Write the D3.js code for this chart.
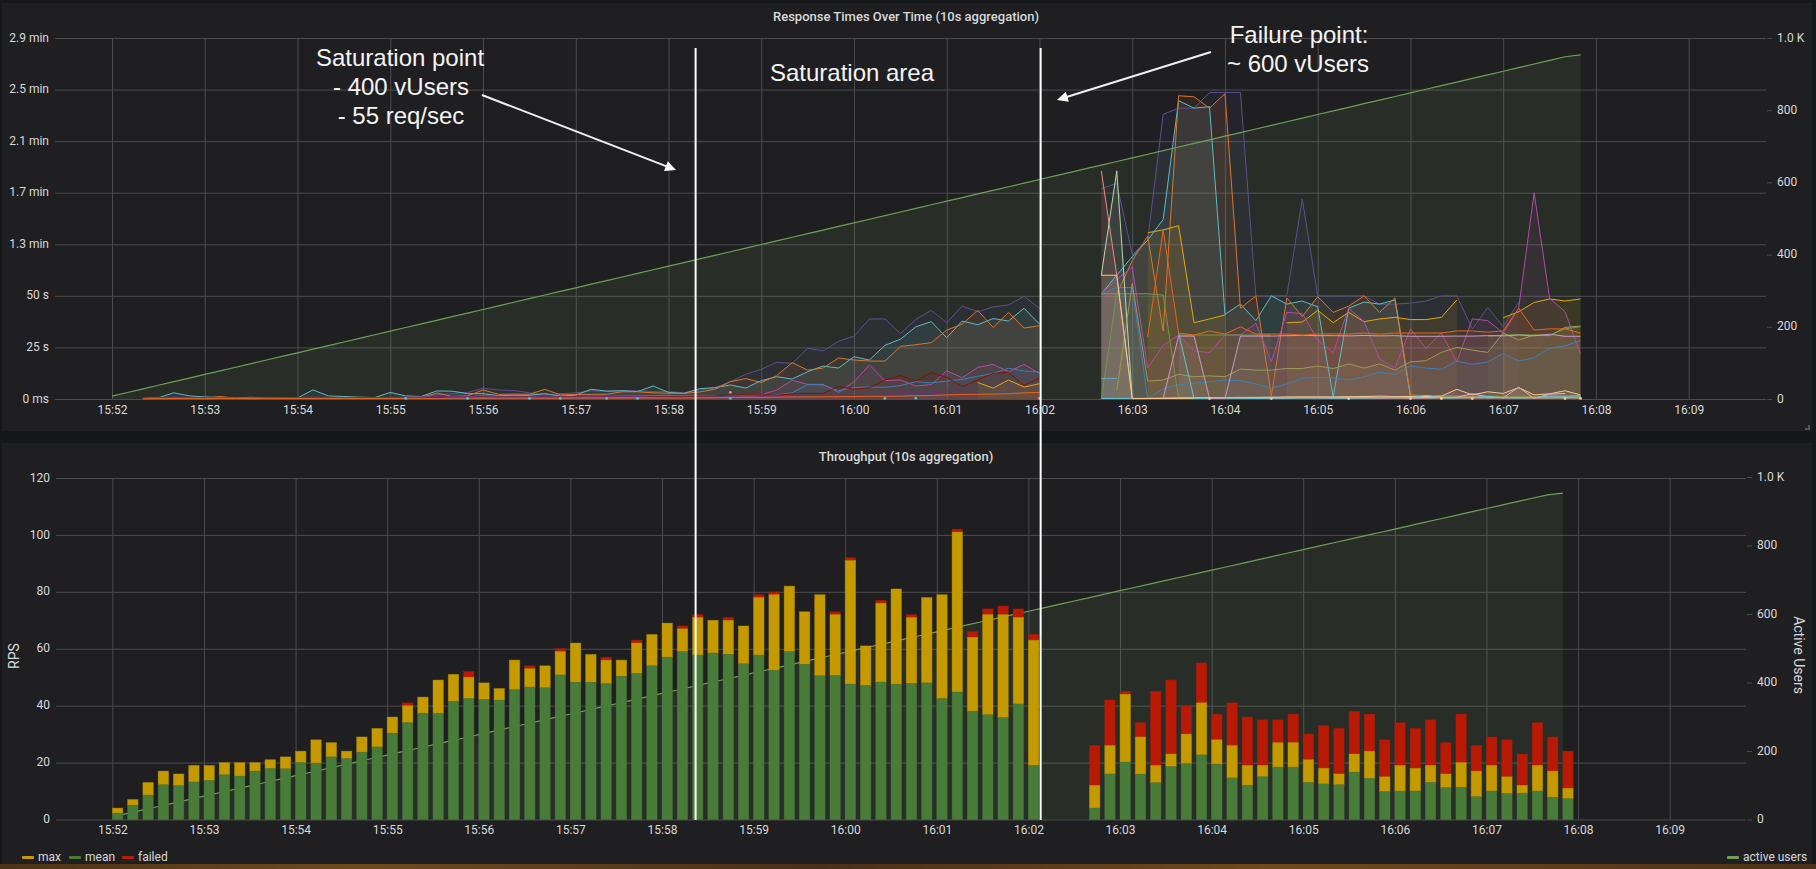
<!DOCTYPE html>
<html>
<head>
<meta charset="utf-8">
<title>Response times and throughput</title>
<script src="https://cdn.jsdelivr.net/npm/d3@7/dist/d3.min.js"></script>
<style>
    html, body { margin: 0; padding: 0; background: #161719; overflow: hidden; }
    svg { display: block; }
    text { font-family: Roboto, sans-serif; fill: #d8d9da; }
    .note { font-family: "Liberation Sans", Arial, sans-serif; font-size: 24px; fill: #f4f4f4; text-anchor: middle; }
    .title { font-size: 13px; font-weight: 500; text-anchor: middle; }
    .axis text { font-size: 12px; }
    .axis .domain { display: none; }
    .axis line { stroke: #4b4c4e; }
</style>
</head>
<body>
<svg id="chart" width="1816" height="869"></svg>
<script>
const _ = null;

// one sample every 10 seconds, index 0 is 15:52:00
const sampleCount = 96;
const startTime = new Date(2019, 0, 1, 15, 52, 0);
const domainStart = new Date(2019, 0, 1, 15, 51, 27);
const domainEnd = new Date(2019, 0, 1, 16, 9, 50);
const saturationTime = new Date(2019, 0, 1, 15, 58, 22);
const failureTime = new Date(2019, 0, 1, 16, 2, 8);

const activeUsers = [
    8, 18, 28, 38, 48, 58, 68, 78, 88, 98, 108, 118, 128, 138, 148, 158, 168, 178, 188, 198,
    208, 218, 228, 238, 248, 258, 268, 278, 288, 298, 308, 318, 328, 338, 348, 358, 368, 378, 388, 398,
    408, 418, 428, 438, 448, 458, 468, 478, 488, 498, 508, 518, 528, 538, 548, 558, 568, 578, 588, 598,
    608, 618, 628, 638, 648, 658, 668, 678, 688, 698, 708, 718, 728, 738, 748, 758, 768, 778, 788, 798,
    808, 818, 828, 838, 848, 858, 868, 878, 888, 898, 908, 918, 928, 938, 948, 953
];

// throughput, tops of the stacked bars in RPS
const barMean = [
    2.2, 5, 8.6, 12.2, 11.9, 13.2, 13.7, 15.7, 15.2, 17,
    17.9, 17.8, 20, 19.8, 22, 21.4, 23.6, 25.5, 30.3, 34,
    37.3, 37.3, 41.5, 42.5, 42.2, 41.9, 45.6, 46.5, 46.3, 50.8,
    48.2, 48.2, 47.7, 50.3, 51.3, 54, 57, 59, 57.8, 58.5,
    58, 54.7, 57.8, 52.4, 59, 54.5, 50.5, 50.6, 47.6, 47.1,
    48.3, 47.5, 47.8, 48, 42.5, 44.8, 38, 36.8, 35.8, 40.6,
    19, _, _, _,
    4, 16, 20.2, 15.9, 12.9, 18.6, 19.6, 22.7, 19.4, 14.6, 12, 15, 18.4, 18.4, 13, 12.5,
    12.2, 16.6, 14.4, 9.8, 10, 10, 13, 11.2, 11.3, 8, 10, 9.1, 9.2, 10, 7.8, 7.3
];
const barMaxTop = [
    4, 7, 13, 17, 16, 19, 19, 20, 20, 20,
    21, 22, 24, 28, 27, 24, 29, 32, 36, 40,
    43, 49, 51, 50, 48, 46, 56, 53, 54, 59,
    62, 58, 56, 56, 62, 65, 69, 67, 71, 70,
    70, 68, 78, 79, 82, 73, 79, 72, 91, 61,
    76, 81, 71, 78, 79, 101, 64, 72, 72, 71,
    63, _, _, _,
    12, 26, 44, 29, 19, 23, 30, 41, 28, 26, 19, 19, 27, 27, 21, 18,
    16, 23, 24, 15, 19, 18, 19, 16, 20, 17, 19, 15, 12, 19, 17, 11
];
const barFailedTop = [
    4, 7, 13, 17, 16, 19, 19, 20, 20, 20,
    21, 22, 24, 28, 27, 24, 29, 32, 36, 41,
    43, 49, 51, 52, 48, 46, 56, 54, 54, 60,
    62, 58, 57, 56, 63, 65, 69, 68, 72, 70,
    71, 68, 79, 80, 82, 73, 79, 73, 92, 61,
    77, 81, 72, 78, 79, 102, 66, 74, 75, 74,
    65, _, _, _,
    26, 42, 45, 34, 45, 49, 40, 55, 37, 41, 36, 35, 35, 37, 30, 33,
    32, 38, 37, 28, 34, 32, 35, 27, 37, 26, 29, 28, 23, 34, 29, 24
];

// response times in seconds: "early" is index 0-60, "late" is index 64-95
const purpleEarly = [
    _, _, 0.3, 0.5, 0.8, 0.6, 0.5, 0.5, 0.4, 0.4, 0.5, 0.5, 0.6, 0.8, 0.7, 0.7, 0.6, 0.5, 0.7, 0.9,
    1.2, 2, 2.6, 3.2, 5.2, 4.4, 4.1, 3, 2, 2.6, 3, 4, 3.8, 4, 4, 3.6, 3.6,
    3, 4.4, 5.5, 8.4, 12, 14.4, 17.8, 17.3, 24.6, 23.3, 28, 30.5, 38.8, 38.8, 31.7, 38.6, 43, 37, 45, 42.3, 44.6, 45.6, 49.8, 44
];
const purpleLate = [
    102, 104.5, 70, 77, 138, 141, 141, 148.6, 148.6, 148.6, 50, 50, 50, 97, 50, 50,
    50, 50, 46, 46, 46.5, 47.5, 50, 50, 34, 44.4, 35, 47, _, _, _, _
];
const cyanEarly = [
    _, _, 0.3, 0.6, 3, 1.5, 1, 0.8, 0.6, 0.8, 0.6, 0.5, 0.5, 4.4, 1.5, 1.2, 0.9, 0.7, 3.2, 1.5,
    1.2, 3.9, 3.8, 2.6, 2.6, 1.6, 1.8, 1.8, 2.6, 1.4, 1.9, 4.7, 3.8, 4, 3.6, 6.3, 3.2,
    2.7, 5, 5.5, 6.8, 5.3, 8.9, 10.8, 9.7, 13.2, 16, 15, 20.5, 18.9, 26, 29, 35, 37.5, 29.7, 37.8, 36, 39, 37.8, 44, 36.3
];
const cyanLate = [
    51, 60, 69, 77, 87, 144.6, 141, 141.7, 41, 46, 38, 50, 46, 47.5, 44.7, 1,
    44, 47, 46, 48, 1, 1.5, 1, 0.8, 0.8, 1, 0.8, 0.8, 1, 1.2, 1.2, 1.2
];
const orangeEarly = [
    _, _, 0.2, 0.3, 0.4, 0.4, 0.3, 1.2, 0.4, 0.3, 0.3, 0.3, 0.3, 0.5, 0.4, 0.4, 0.3, 0.3, 0.4, 0.4,
    0.6, 2.9, 1.3, 1.5, 4.4, 2.3, 2.4, 2.3, 4.7, 2, 2.2, 2.3, 2.3, 3.5, 3.5, 3, 2.8,
    2.7, 3.4, 4.7, 8.4, 9.9, 8, 11.3, 17.6, 14, 15, 19.9, 18.9, 18.4, 18.4, 25.5, 26.3, 27.3, 33.4, 36.3, 43, 34.7, 42, 34.4, 35.5
];
const orangeLate = [
    51, 51, 67, 79, 33, 147, 146.5, 141, 148, 44, 50, 1.6, 49, 40, 49.6, 42,
    45, 50, 42, 49, 2, 1.5, 1.4, 1.5, 1.2, 1.4, 1.2, 1, 1.1, 1.1, 1.2, 1
];
const redOrangeEarly = [
    _, _, 0.1, 0.2, 0.2, 0.2, 0.2, 0.3, 0.2, 0.2, 0.2, 0.2, 0.2, 0.2, 0.2, 0.3, 0.2, 0.2, 0.3, 0.3,
    0.3, 0.3, 0.4, 0.4, 0.4, 0.4, 0.4, 0.4, 0.4, 0.4, 0.5, 0.5, 0.5, 0.5, 0.5, 0.5, 0.5,
    0.5, 0.6, 0.6, 0.7, 0.8, 0.8, 0.9, 1, 1, 1.1, 1.1, 1.2, 1.3, 1.3, 1.4, 1.6, 1.7, 2, 2.2, 2.3, 2.4, 2.6, 3, 3.2
];
const redOrangeLate = [
    _, _, _, 30, 82, 32, 31, 33, 31.5, 35, 31.5, 31.5, 31.5, 31, 31.5, 31.6,
    31.5, 32, 31.4, 32, 32, 32, 32, 33, 33, 32.4, 33, 44, 33.4, 34, 34, 32
];
const yellowEarly = [
    _, _, _, _, _, _, _, _, _, _, _, _, _, _, _, _, _, _, _, _,
    _, _, _, _, _, _, _, _, _, _, _, _, _, _, _, _, _,
    _, _, _, _, _, _, _, _, _, _, _, _, _, _, _, _, _, _, _, 8, 5.3, 9.2, 5.8, 7.4
];
const yellowLate = [
    _, _, _, 80.6, 82, 84, 37, 38.8, 40.7, _, _, _, 37, 37.3, 43, 37,
    42, 37.5, 38.8, 39.6, 38.5, 38.5, 39.6, 48, _, _, 39.4, 42.3, 46.8, 48.5, 47.5, 48.5
];
const magentaEarly = [
    _, _, 0.2, 0.3, 0.6, 0.5, 0.4, 0.4, 0.3, 0.3, 0.3, 0.3, 0.3, 0.6, 0.5, 0.5, 0.4, 0.4, 0.5, 0.6,
    0.8, 1, 1.2, 1, 1.6, 1.3, 1.2, 1.2, 1, 1.3, 1.2, 1.4, 1.3, 1.4, 1.5, 1.6, 1.6,
    1.5, 1.5, 1.6, 1.7, 1.7, 2, 4.4, 9, 7.1, 7.1, 3.2, 8.4, 16.5, 8.9, 9.2, 6.3, 7, 13.7, 10.3, 15.3, 16.8, 13.2, 16.8, 12.4
];
const magentaLate = [
    51, 58, 64, 15, 26, 31, 23.4, 22.5, 31, 31, 36.7, 18, 42, 41.5, 28.6, 22.5,
    44, 37.5, 19.4, 15, 34, 24.6, 32, 18, 38.8, 38, 32, 44, 100, 48.8, 42.3, 21.8
];
const blueEarly = [
    _, _, 0.1, 0.1, 0.2, 0.2, 0.1, 0.2, 0.2, 0.1, 0.2, 0.2, 0.2, 0.3, 0.2, 0.2, 0.2, 0.3, 0.3, 0.3,
    0.4, 0.4, 0.5, 0.5, 0.5, 0.5, 0.5, 0.6, 0.5, 0.6, 0.6, 0.6, 0.6, 0.7, 0.6, 0.7, 0.7,
    0.7, 0.7, 0.8, 0.9, 1, 1.2, 2, 3, 7, 6.8, 4, 5.5, 5.8, 5.7, 6.5, 8.4, 7.8, 8.7, 9.5, 11, 12.4, 14.9, 13.6, 13
];
const blueLate = [
    51, 54, 54, 0.2, 5, 7, 7.6, 8.4, 9.2, 8.9, 7.3, 5.2, 7.3, 10, 10.5, 10.3,
    9.2, 10.8, 13, 12, 16, 15, 14.4, 18.4, 16.8, 18, 22, 18.4, 20, 24.6, 25.8, 28.3
];
const darkRedEarly = [
    _, _, 0.2, 0.3, 0.4, 0.3, 0.3, 0.4, 0.3, 0.3, 0.3, 0.3, 0.4, 0.5, 0.4, 0.4, 0.4, 0.4, 0.5, 0.5,
    0.6, 0.7, 0.8, 0.9, 1.2, 1, 1, 1, 0.9, 1, 1, 1.1, 1.1, 1.2, 1.2, 1.2, 1.1,
    1, 1.2, 1.5, 1.9, 2, 2, 1.8, 2.5, 2.7, 2.7, 6, 4.7, 5.5, 9.2, 11.3, 8.9, 12.8, 10.5, 6, 9.2, 12.4, 12.9, 6.5, 10.3
];
const darkPurpleEarly = [
    _, _, 0.4, 0.6, 1, 0.8, 0.6, 0.6, 0.5, 0.5, 0.6, 0.6, 0.7, 0.9, 0.8, 0.7, 0.7, 0.6, 0.8, 0.9,
    1, 1.2, 1.3, 1, 1.4, 1.2, 1.2, 1.1, 1, 1.1, 1.1, 1.2, 1.1, 1.2, 1.2, 1, 0.9,
    0.8, 0.9, 1, 1, 1.1, 1.2, 1.3, 1.2, 1.4, 1.5, 1.4, 1.5, 1.6, 1.8, 3, 3, 2.8, 3.8, 3.8, 3.4, _, _, _, _
];
const lavenderLate = [
    _, _, _, _, 0.4, 30.5, 30.5, 0.3, 0.3, 30.5, 30.5, 30.5, 30.7, 30.8, 30.7, 30.7,
    30.6, 30.8, 30.6, 30.7, 30.4, 30.4, 30.4, 30.5, 30.5, 30.7, 30.6, 31, 30.6, 31.4, 30.4, 30.4
];
const greenLate = [
    0, 51, 51, 51, 50.4, 0.3, 0.3, 0.4, 0.4, 0.5, 0.4, 0.5, 0.6, 0.6, 0.7, 0.7,
    0.8, 0.9, 0.9, 1, 1, 1, 1, 1.2, 1.4, 1.3, 1, 1.1, 1, 1.2, 1.4, 1.6
];
const greenFlatLate = [
    _, _, _, _, _, 31, 31, 31, 31, 31, 31, 31, _, _, _, _,
    _, _, _, _, _, _, _, _, _, 30.5, 31, 31.2, 31, 31, 34, 35
];
const paleGreenLate = [
    60, 110.6, 0.2, 0.3, 0.3, 0.4, 0.4, _, _, _, _, _, _, _, _, _,
    _, _, _, _, _, _, _, _, _, _, _, _, _, _, _, _
];
const oliveLate = [
    _, 4, 56, 8.7, 9.2, 12, 10.8, 11.2, 10.8, 14.5, 14, 14, 14.8, 14.8, 16, 14.8,
    17, 15, 17, 14, 18, 18.6, 22.6, 25, 23.7, 22.6, 32, 28.6, 31, 30.7, 34.7, 35.4
];
const salmonLate = [
    110.6, 60, 0.3, 0.3, 0.4, 0.5, 0.6, 0.6, 0.7, 0.7, 0.6, 0.6, 1, 0.9, 0.9, 0.8,
    0.9, 0.9, 0.8, 0.7, 0.7, 0.7, 0.8, 0.8, 0.9, 0.8, 0.8, 0.7, 0.6, 0.6, 0.7, 0.6
];
const tanLate = [
    60, 60, 0.2, 0.2, 0.3, 0.4, 0.5, 0.6, 0.7, 0.8, 0.8, 0.9, 0.9, 1, 1, 1,
    1.1, 1.2, 1.4, 1.2, 1.2, 1.2, 1.4, 4.7, 2, 3.5, 2.7, 5.5, 2, 2.5, 4, 2
];
const pinkLate = [
    _, _, _, _, _, _, _, 0.4, 0.5, 0.5, 0.5, 0.4, 0.6, 0.8, 0.7, 0.6,
    0.5, 0.6, 0.5, 0.6, 0.5, 0.6, 0.7, 0.8, 2.6, 1, 0.6, 5.7, 0.3, 2.3, 2.7, _
];
const skyLate = [
    10, 10, _, _, _, _, _, _, _, _, _, _, _, _, _, _,
    _, _, _, _, _, _, _, _, _, _, _, _, _, _, _, _
];
const tealLate = [
    0.3, 0.3, 0.3, _, _, 32, 0.3, 0.3, 0.5, 0.4, 0.3, 0.4, 0.4, 0.5, 0.5, 0.4,
    0.5, 0.5, 0.6, 0.9, 0.6, 1.8, 0.5, 0.6, 0.8, 1.2, 0.6, 0.5, 0.7, 1.4, 1.3, 1.5
];

// isolated samples, they have no neighbour and show as dots
const cyanDotIndex = [19, 23, 27, 29, 32, 34, 40, 50, 52];
const cyanDotValue = [0.3, 0.3, 0.3, 0.3, 0.3, 0.3, 0.3, 0.3, 0.4];
const salmonDotIndex = [40, 60];
const salmonDotValue = [3.2, 0.3];
const peachDotIndex = [71, 75, 80, 84, 86, 88, 94, 95];
const peachDotValue = [0.2, 0.2, 0.2, 0.2, 0.2, 0.2, 0.2, 0.3];

const responseSeries = [
    { color: "#614d93", early: purpleEarly, late: purpleLate },
    { color: "#5bbcc9", early: cyanEarly, late: cyanLate },
    { color: "#d8762e", early: orangeEarly, late: orangeLate },
    { color: "#e5a80e", early: yellowEarly, late: yellowLate },
    { color: "#b24aa6", early: magentaEarly, late: magentaLate },
    { color: "#3f7fb5", early: blueEarly, late: blueLate },
    { color: "#890f02", early: darkRedEarly, late: [] },
    { color: "#6f2c78", early: darkPurpleEarly, late: [] },
    { color: "#6b9a45", early: [], late: greenLate },
    { color: "#6b9a45", early: [], late: greenFlatLate },
    { color: "#b7dbab", early: [], late: paleGreenLate },
    { color: "#9c9a55", early: [], late: oliveLate },
    { color: "#f28a80", early: [], late: salmonLate },
    { color: "#f4c98f", early: [], late: tanLate },
    { color: "#efa6cc", early: [], late: pinkLate },
    { color: "#6ea6cf", early: [], late: skyLate },
    { color: "#5fc6d6", early: [], late: tealLate },
    { color: "#c79bc4", early: [], late: lavenderLate },
    { color: "#e8641c", early: redOrangeEarly, late: redOrangeLate }
];

const responseTicks = [0, 25, 50, 75, 100, 125, 150, 175];
const responseTickLabels = ["0 ms", "25 s", "50 s", "1.3 min", "1.7 min", "2.1 min", "2.5 min", "2.9 min"];
const rpsTicks = [0, 20, 40, 60, 80, 100, 120];
const userTicks = [0, 200, 400, 600, 800, 1000];

const legendLeft = [
    { label: "max", color: "#c49a00", x: 22 },
    { label: "mean", color: "#4a7c39", x: 69 },
    { label: "failed", color: "#b81a05", x: 122 }
];

function timeAt(i) {
    return d3.timeSecond.offset(startTime, i * 10);
}

function fullSeries(early, late) {
    const values = new Array(sampleCount).fill(null);
    early.forEach((v, i) => { values[i] = v; });
    late.forEach((v, i) => { values[64 + i] = v; });
    return values;
}

const svg = d3.select("#chart");

// page and panels
svg.append("rect").attr("width", 1816).attr("height", 869).attr("fill", "#161719");
svg.append("rect").attr("x", 2).attr("y", 3).attr("width", 1810).attr("height", 428).attr("fill", "#1f1f21");
svg.append("rect").attr("x", 2).attr("y", 443).attr("width", 1810).attr("height", 421).attr("fill", "#1f1f21");
const strip = svg.append("defs").append("linearGradient").attr("id", "strip");
[["0%", "#4d3218"], ["20%", "#6e4a1e"], ["45%", "#4a2f18"], ["70%", "#70491c"], ["100%", "#4d3118"]].forEach(s => {
    strip.append("stop").attr("offset", s[0]).attr("stop-color", s[1]);
});
svg.append("rect").attr("y", 864).attr("width", 1816).attr("height", 5).attr("fill", "url(#strip)");
svg.append("path").attr("d", "M1809 425V429H1805").attr("fill", "none").attr("stroke", "#555").attr("stroke-width", 2);

function drawAxes(g, x, yLeft, yRight, left, right, leftTicks, leftFormat) {
    const top = yLeft.range()[1];
    const bottom = yLeft.range()[0];

    const grid = g.append("g").attr("class", "axis");
    grid.append("g")
        .attr("transform", `translate(${left},0)`)
        .call(d3.axisLeft(yLeft).tickValues(leftTicks).tickSize(-(right - left)).tickFormat(""));

    const leftAxis = g.append("g").attr("class", "axis")
        .attr("transform", `translate(${left},0)`)
        .call(d3.axisLeft(yLeft).tickValues(leftTicks).tickSize(6).tickPadding(6).tickFormat(leftFormat));

    const rightAxis = g.append("g").attr("class", "axis")
        .attr("transform", `translate(${right + 1},0)`)
        .call(d3.axisRight(yRight).tickValues(userTicks).tickSize(5).tickPadding(5)
            .tickFormat(d => d === 1000 ? "1.0 K" : d));

    // labels sit a little above their ticks in the reference
    leftAxis.selectAll("text").attr("dy", "0.26em");
    rightAxis.selectAll("text").attr("dy", "0.26em");

    g.append("g").attr("class", "axis")
        .attr("transform", `translate(0,${bottom})`)
        .call(d3.axisBottom(x).ticks(d3.timeMinute.every(1)).tickSize(-(bottom - top)).tickPadding(6)
            .tickFormat(d3.timeFormat("%H:%M")));
}

function drawUsersFill(g, x, yRight) {
    const area = d3.area()
        .x((d, i) => x(timeAt(i)))
        .y0(yRight(0))
        .y1(d => yRight(d));
    g.append("path").datum(activeUsers)
        .attr("d", area)
        .attr("fill", "#7eb26d")
        .attr("fill-opacity", 0.1);
}

function drawUsersLine(g, x, yRight) {
    const line = d3.line()
        .x((d, i) => x(timeAt(i)))
        .y(d => yRight(d));
    g.append("path").datum(activeUsers)
        .attr("d", line)
        .attr("fill", "none")
        .attr("stroke", "#6f9f58")
        .attr("stroke-width", 1.2);
}

// response times panel
const xTop = d3.scaleTime().domain([domainStart, domainEnd]).range([61, 1766]);
const yResponse = d3.scaleLinear().domain([0, 175]).range([399, 38]);
const yUsersTop = d3.scaleLinear().domain([0, 1000]).range([399, 38]);

const topPanel = svg.append("g");
drawAxes(topPanel, xTop, yResponse, yUsersTop, 61, 1766, responseTicks,
    d => responseTickLabels[responseTicks.indexOf(d)]);
drawUsersFill(topPanel, xTop, yUsersTop);

const responseArea = d3.area()
    .defined(d => d !== null)
    .x((d, i) => xTop(timeAt(i)))
    .y0(yResponse(0))
    .y1(d => yResponse(d));
const responseLine = d3.line()
    .defined(d => d !== null)
    .x((d, i) => xTop(timeAt(i)))
    .y(d => yResponse(d));

responseSeries.forEach(s => {
    const values = fullSeries(s.early, s.late);
    topPanel.append("path").datum(values)
        .attr("d", responseArea)
        .attr("fill", s.color)
        .attr("fill-opacity", 0.1);
});
responseSeries.forEach(s => {
    const values = fullSeries(s.early, s.late);
    topPanel.append("path").datum(values)
        .attr("d", responseLine)
        .attr("fill", "none")
        .attr("stroke", s.color)
        .attr("stroke-width", 1);
});

[[cyanDotIndex, cyanDotValue, "#5bbcc9"], [salmonDotIndex, salmonDotValue, "#f28a80"], [peachDotIndex, peachDotValue, "#f4c98f"]].forEach(dots => {
    topPanel.selectAll(null)
        .data(dots[0])
        .enter()
        .append("circle")
        .attr("cx", d => xTop(timeAt(d)))
        .attr("cy", (d, i) => yResponse(dots[1][i]))
        .attr("r", 1.4)
        .attr("fill", dots[2]);
});
drawUsersLine(topPanel, xTop, yUsersTop);

topPanel.append("text").attr("class", "title")
    .attr("x", 906).attr("y", 21)
    .text("Response Times Over Time (10s aggregation)");

// throughput panel
const xBottom = d3.scaleTime().domain([domainStart, domainEnd]).range([62, 1746]);
const yRps = d3.scaleLinear().domain([0, 120]).range([819.5, 478]);
const yUsersBottom = d3.scaleLinear().domain([0, 1000]).range([819.5, 477]);

const bottomPanel = svg.append("g");
drawAxes(bottomPanel, xBottom, yRps, yUsersBottom, 62, 1746, rpsTicks, d => d);
drawUsersFill(bottomPanel, xBottom, yUsersBottom);
drawUsersLine(bottomPanel, xBottom, yUsersBottom);

const barWidth = xBottom(timeAt(0).getTime() + 6800) - xBottom(timeAt(0));
const barLayers = [
    { color: "#b81a05", lower: barMaxTop, upper: barFailedTop },
    { color: "#c49a00", lower: barMean, upper: barMaxTop },
    { color: "#4a7c39", lower: barMean.map(() => 0), upper: barMean }
];
barLayers.forEach(layer => {
    bottomPanel.append("g")
        .selectAll("rect")
        .data(layer.upper.map((d, i) => ({ i: i, upper: d, lower: layer.lower[i] })).filter(d => d.upper !== null && d.upper > d.lower))
        .enter()
        .append("rect")
        .attr("x", d => xBottom(timeAt(d.i)))
        .attr("y", d => yRps(d.upper))
        .attr("width", barWidth)
        .attr("height", d => yRps(d.lower) - yRps(d.upper))
        .attr("fill", layer.color)
        .attr("stroke", layer.color)
        .attr("stroke-opacity", 0.5)
        .attr("stroke-width", 0.8);
});

bottomPanel.append("text").attr("class", "title")
    .attr("x", 906).attr("y", 461)
    .text("Throughput (10s aggregation)");

bottomPanel.append("text")
    .attr("transform", "translate(19,656) rotate(-90)")
    .attr("text-anchor", "middle")
    .style("font-size", "14px")
    .text("RPS");
bottomPanel.append("text")
    .attr("transform", "translate(1794,655) rotate(90)")
    .attr("text-anchor", "middle")
    .style("font-size", "14px")
    .text("Active Users");

// legend
legendLeft.forEach(item => {
    svg.append("rect").attr("x", item.x).attr("y", 856).attr("width", 12).attr("height", 3).attr("rx", 1).attr("fill", item.color);
    svg.append("text").attr("x", item.x + 16).attr("y", 861).style("font-size", "12px").text(item.label);
});
svg.append("rect").attr("x", 1727).attr("y", 856).attr("width", 12).attr("height", 3).attr("rx", 1).attr("fill", "#6f9f58");
svg.append("text").attr("x", 1743).attr("y", 861).style("font-size", "12px").text("active users");

// annotations
[saturationTime, failureTime].forEach(t => {
    svg.append("line")
        .attr("x1", xBottom(t)).attr("x2", xBottom(t))
        .attr("y1", 48).attr("y2", 820)
        .attr("stroke", "#ffffff")
        .attr("stroke-width", 2);
});

const notes = [
    ["Saturation point", 400, 66],
    ["- 400 vUsers", 401, 95],
    ["- 55 req/sec", 401, 124],
    ["Saturation area", 852, 81],
    ["Failure point:", 1299, 43],
    ["~ 600 vUsers", 1298, 72]
];
notes.forEach(n => {
    svg.append("text").attr("class", "note").attr("x", n[1]).attr("y", n[2]).text(n[0]);
});

function drawArrow(x1, y1, x2, y2) {
    const angle = Math.atan2(y2 - y1, x2 - x1);
    const len = 12;
    const spread = 0.45;
    const neckX = x2 - (len - 2) * Math.cos(angle);
    const neckY = y2 - (len - 2) * Math.sin(angle);
    svg.append("line")
        .attr("x1", x1).attr("y1", y1).attr("x2", neckX).attr("y2", neckY)
        .attr("stroke", "#f0f0f0").attr("stroke-width", 2);
    svg.append("polygon")
        .attr("points", [
            [x2, y2],
            [x2 - len * Math.cos(angle - spread), y2 - len * Math.sin(angle - spread)],
            [x2 - len * Math.cos(angle + spread), y2 - len * Math.sin(angle + spread)]
        ].join(" "))
        .attr("fill", "#ffffff");
}
drawArrow(482, 95, 676, 170);
drawArrow(1211, 52, 1057, 100);
</script>
</body>
</html>
